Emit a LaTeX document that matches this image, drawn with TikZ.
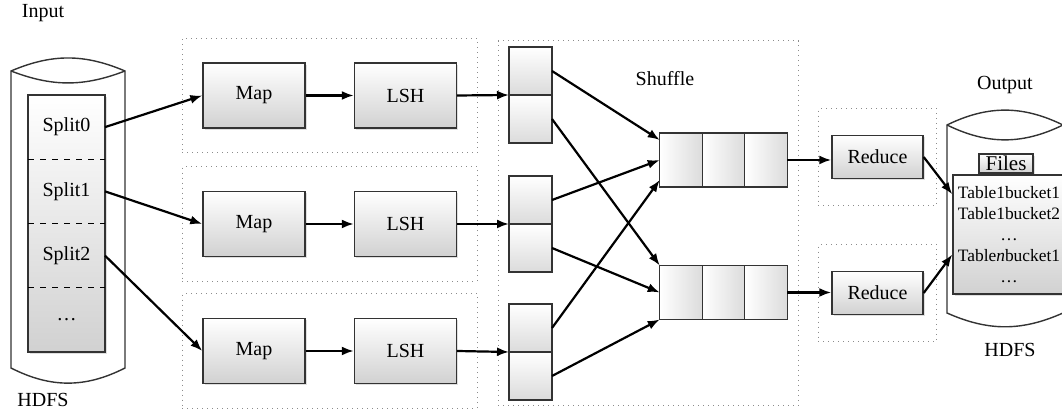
\documentclass[tikz,border=0pt]{standalone}
\usepackage{fontspec}
\setmainfont{Liberation Serif}
\usetikzlibrary{arrows.meta, positioning, calc, fit, backgrounds, shadows}

\begin{document}
\begin{tikzpicture}[
    x=0.5pt, y=-0.5pt,
    box/.style={draw=black!80, line width=0.7pt, top color=white, bottom color=black!18,
                drop shadow={opacity=0.25, shadow xshift=0.8pt, shadow yshift=-0.8pt},
                minimum width=51pt, minimum height=32.5pt, inner sep=1pt,
                font=\fontsize{10}{12}\selectfont},
    redbox/.style={box, minimum width=45.5pt, minimum height=21.5pt},
    scell/.style={draw=black!80, line width=0.7pt, top color=white, bottom color=black!14,
                  outer sep=0pt, inner sep=0pt, minimum width=21.5pt, minimum height=24pt},
    qcell/.style={draw=black!80, line width=0.7pt, left color=white, right color=black!14,
                  outer sep=0pt, inner sep=0pt, minimum width=21.25pt, minimum height=27pt},
    splitcell/.style={outer sep=0pt, inner sep=0pt, minimum width=38.5pt, minimum height=32.125pt,
                      font=\fontsize{10}{12}\selectfont},
    cylbody/.style={inner sep=0pt, outer sep=0pt},
    cyl/.style={draw=black!80, line width=0.7pt, fill=white},
    group/.style={draw=black!45, dotted, line width=0.5pt},
    arrow/.style={-{Latex[length=6pt,width=4.5pt]}, line width=1.1pt},
    lbl/.style={font=\fontsize{10}{12}\selectfont},
]
\useasboundingbox (0,0) rectangle (1062,410);

% Grid layout (units = px of the 1062x410 frame, y downwards)
% x cols : 68=input HDFS, 254/405=Map/LSH, 530=buckets, 724=shuffle queues, 877=Reduce, 1005=output HDFS
% y rows : 95 / 224 / 351 = map rows

% Input HDFS cylinder
\node[cylbody, minimum width=57pt, minimum height=148.5pt] at (68,219.5) (incyl) {};
\draw[cyl] (incyl.north west) to[bend left=23] (incyl.north east) -- (incyl.south east)
           to[bend left=27] (incyl.south west) -- cycle;
\draw[cyl, fill=none] (incyl.north west) to[bend right=21] (incyl.north east);
\node[box, minimum width=38.5pt, minimum height=128.5pt] at (66.5,223.5) (inbox) {};
\node[splitcell] at (66.5,127.125) (split0) {Split0};
\node[splitcell, below=0pt of split0] (split1) {Split1};
\node[splitcell, below=0pt of split1] (split2) {Split2};
\node[splitcell, below=0pt of split2] (splitn) {\dots};
\draw[dashed, line width=0.6pt] (split0.south west) -- (split0.south east);
\draw[dashed, line width=0.6pt] (split1.south west) -- (split1.south east);
\draw[dashed, line width=0.6pt] (split2.south west) -- (split2.south east);
\node[lbl] at (43,13)  (input)  {Input};
\node[lbl] at (43,400) (hdfsin) {HDFS};

% Map / LSH rows
\node[box] at (254,95.5)  (map1) {Map};
\node[box] at (405.5,95.5) (lsh1) {LSH};
\node[box] at (254,224)   (map2) {Map};
\node[box] at (405.5,224) (lsh2) {LSH};
\node[box] at (254,351)   (map3) {Map};
\node[box] at (405.5,351) (lsh3) {LSH};

% buckets (two halves each)
\node[scell] at (530.5,71)  (s1a) {};
\node[scell, below=0pt of s1a] (s1b) {};
\node[scell] at (530.5,200) (s2a) {};
\node[scell, below=0pt of s2a] (s2b) {};
\node[scell] at (530.5,328) (s3a) {};
\node[scell, below=0pt of s3a] (s3b) {};

% shuffle queues
\node[qcell] at (681,160) (q1a) {};
\node[qcell, right=0pt of q1a] (q1b) {};
\node[qcell, right=0pt of q1b] (q1c) {};
\node[qcell] at (681,292.5) (q2a) {};
\node[qcell, right=0pt of q2a] (q2b) {};
\node[qcell, right=0pt of q2b] (q2c) {};
\node[lbl] at (665,79) (shuffle) {Shuffle};

% reducers
\node[redbox] at (877.5,157) (red1) {Reduce};
\node[redbox] at (877.5,293) (red2) {Reduce};

% Output HDFS cylinder
\node[cylbody, minimum width=58pt, minimum height=94pt] at (1005,219) (outcyl) {};
\draw[cyl] (outcyl.north west) to[bend left=26] (outcyl.north east) -- (outcyl.south east)
           to[bend left=24] (outcyl.south west) -- cycle;
\draw[cyl, fill=none] (outcyl.north west) to[bend right=26] (outcyl.north east);
\node[box, minimum width=27pt, minimum height=9.5pt, font=\fontsize{10.5}{12}\selectfont]
      at (1006,163.5) (files) {Files};
\node[box, minimum width=56pt, minimum height=59.5pt, align=center,
      font=\fontsize{8.7}{10.6}\selectfont] at (1009,234.5) (outlist)
      {Table1bucket1\\Table1bucket2\\\dots\\Table\textit{n}bucket1\\\dots};
\node[lbl] at (1005,85)  (output)  {Output};
\node[lbl] at (1010,350) (hdfsout) {HDFS};

% Input -> Map
\draw[arrow] (split0.east) -- (map1.west);
\draw[arrow] (split1.east) -- (map2.west);
\draw[arrow] (split2.east) -- (map3.west);

% Map -> LSH -> buckets
\draw[arrow] (map1) -- (lsh1);
\draw[arrow] (map2) -- (lsh2);
\draw[arrow] (map3) -- (lsh3);
\draw[arrow] (lsh1.east) -- (s1a.south west);
\draw[arrow] (lsh2.east) -- (s2a.south west);
\draw[arrow] (lsh3.east) -- (s3a.south west);

% shuffle: buckets -> queues
\draw[arrow] (s1a.east) -- ($(q1a.west)+(0,-20)$);
\draw[arrow] (s2a.east) -- (q1a.west);
\draw[arrow] (s3a.east) -- ($(q1a.west)+(0,20)$);
\draw[arrow] (s1b.east) -- (q2a.north west);
\draw[arrow] (s2b.east) -- (q2a.west);
\draw[arrow] (s3b.east) -- (q2a.south west);

% queues -> Reduce -> files
\draw[arrow] (q1c.east) -- (q1c.east -| red1.west);
\draw[arrow] (q2c.east) -- (q2c.east -| red2.west);
\draw[arrow] (red1.east) -- ($(outlist.north west)+(0,20)$);
\draw[arrow] (red2.east) -- ($(outlist.west)+(0,20)$);

% dotted groups
\begin{scope}[on background layer]
    \node[group, inner xsep=10pt, inner ysep=12pt, fit=(map1)(lsh1)] (grp1) {};
    \node[group, inner xsep=10pt, inner ysep=12pt, fit=(map2)(lsh2)] (grp2) {};
    \node[group, inner xsep=10pt, inner ysep=12pt, fit=(map3)(lsh3)] (grp3) {};
    \node[group, inner xsep=5.5pt, inner ysep=3pt, fit=(s1a)(s3b)(q1c)] (grpshuf) {};
    \node[group, inner xsep=6.5pt, inner ysep=13pt, fit=(red1)] (grpred1) {};
    \node[group, inner xsep=6.5pt, inner ysep=13pt, fit=(red2)] (grpred2) {};
\end{scope}
\end{tikzpicture}
\end{document}
